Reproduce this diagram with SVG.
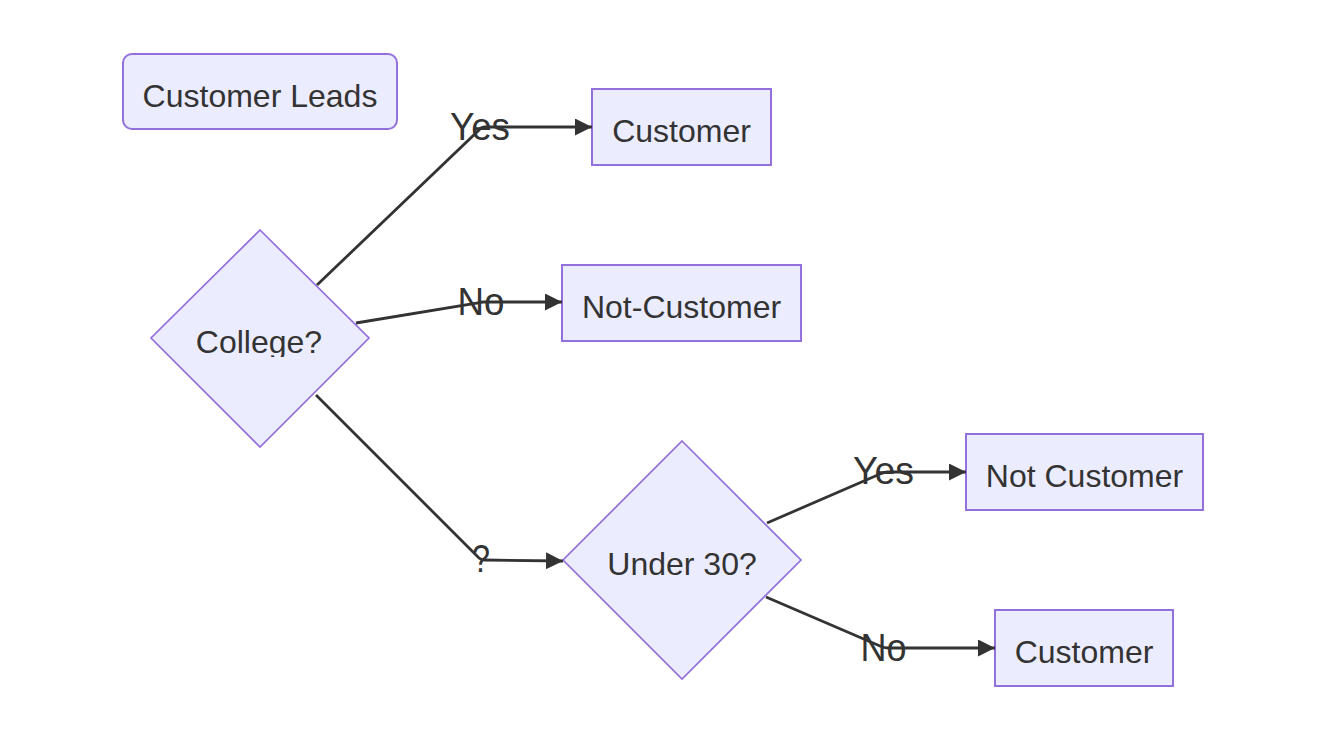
<svg xmlns="http://www.w3.org/2000/svg" width="1324" height="738" viewBox="0 0 1324 738">
<style>
.node rect,.node polygon{fill:#ECECFF;stroke:#9370DB;stroke-width:2}
.node polygon{stroke-width:1.7}
.nt{font-family:"Liberation Sans",Arial,sans-serif;font-size:32px;fill:#333;text-anchor:middle}
.edge{fill:none;stroke:#333;stroke-width:2.8}
.lbl{font-family:"Liberation Sans",Arial,sans-serif;font-size:39px;fill:#333;text-anchor:middle}
</style>
<defs>
<marker id="arrow" viewBox="0 0 10 10" refX="10" refY="5" markerUnits="userSpaceOnUse" markerWidth="17" markerHeight="17" orient="auto">
<path d="M0,0 L10,5 L0,10 z" fill="#333"/>
</marker>
<clipPath id="clipCollege"><rect x="180" y="300" width="160" height="57"/></clipPath>
</defs>
<rect width="1324" height="738" fill="#fff"/>
<g id="leads" class="node">
<rect x="123" y="54" width="274" height="75" rx="9" ry="9"/>
<text class="nt" x="260" y="106.5">Customer Leads</text>
</g>
<g id="college" class="node">
<polygon points="260,230 369,338 260,447 151,338"/>
<text class="nt" x="259" y="353" clip-path="url(#clipCollege)">College?</text>
</g>
<g id="customer1" class="node">
<rect x="592" y="89" width="179" height="76"/>
<text class="nt" x="681.5" y="142">Customer</text>
</g>
<g id="notcustomer1" class="node">
<rect x="562" y="265" width="239" height="76"/>
<text class="nt" x="681.5" y="318">Not-Customer</text>
</g>
<g id="under30" class="node">
<polygon points="682,441 801,560 682,679 563,560"/>
<text class="nt" x="682" y="575">Under 30?</text>
</g>
<g id="notcustomer2" class="node">
<rect x="966" y="434" width="237" height="76"/>
<text class="nt" x="1084.5" y="487">Not Customer</text>
</g>
<g id="customer2" class="node">
<rect x="995" y="610" width="178" height="76"/>
<text class="nt" x="1084" y="663">Customer</text>
</g>
<g id="connectors">
<path class="edge" d="M317,285 L479,130 Q481,127 485,127 L592,127" marker-end="url(#arrow)"/>
<path class="edge" d="M356,323 L478,303 Q480,302 484,302 L562,302" marker-end="url(#arrow)"/>
<path class="edge" d="M316,395 L479,558 Q481,560 485,560 L563,561" marker-end="url(#arrow)"/>
<path class="edge" d="M767,523 L880,474 Q884,472 888,472 L966,472" marker-end="url(#arrow)"/>
<path class="edge" d="M766,597 L880,646 Q884,648 888,648 L995,648" marker-end="url(#arrow)"/>
<text class="lbl" x="480" y="140" textLength="60" lengthAdjust="spacingAndGlyphs">Yes</text>
<text class="lbl" x="481" y="315" textLength="47" lengthAdjust="spacingAndGlyphs">No</text>
<text class="lbl" x="481" y="572" textLength="18" lengthAdjust="spacingAndGlyphs">?</text>
<text class="lbl" x="883.5" y="484" textLength="61" lengthAdjust="spacingAndGlyphs">Yes</text>
<text class="lbl" x="883.5" y="661" textLength="46" lengthAdjust="spacingAndGlyphs">No</text>
</g>
</svg>
